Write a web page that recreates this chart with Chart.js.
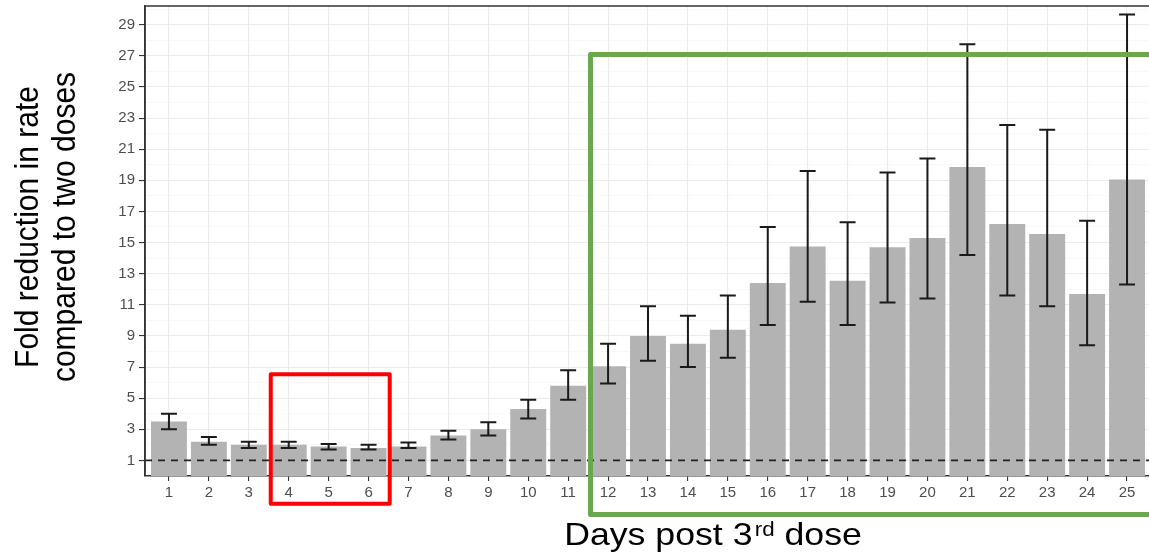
<!DOCTYPE html>
<html>
<head>
<meta charset="utf-8">
<script src="https://cdn.jsdelivr.net/npm/chart.js@4/dist/chart.umd.min.js"></script>
<style>
  html, body { margin: 0; padding: 0; background: #fff; overflow: hidden; }
  #wrap { position: relative; width: 1149px; height: 553px; }
</style>
</head>
<body>
<div id="wrap"><canvas id="c" width="1149" height="553"></canvas></div>
<script>
// Days after the third dose
const days = [1, 2, 3, 4, 5, 6, 7, 8, 9, 10, 11, 12, 13, 14, 15, 16, 17, 18, 19, 20, 21, 22, 23, 24, 25];
// Fold reduction in infection rate compared with two doses (point estimate)
const foldReduction = [3.5, 2.2, 2.0, 2.0, 1.9, 1.8, 1.9, 2.6, 3.0, 4.3, 5.8, 7.05, 9.0, 8.5, 9.4, 12.4, 14.75, 12.55, 14.7, 15.3, 19.85, 16.2, 15.55, 11.7, 19.05];
// Confidence interval bounds
const ciLower = [3.0, 2.0, 1.8, 1.8, 1.7, 1.7, 1.8, 2.35, 2.6, 3.7, 4.9, 5.95, 7.4, 7.0, 7.6, 9.7, 11.2, 9.7, 11.15, 11.4, 14.2, 11.6, 10.9, 8.4, 12.3];
const ciUpper = [4.0, 2.5, 2.2, 2.2, 2.05, 2.0, 2.15, 2.9, 3.45, 4.9, 6.8, 8.5, 10.9, 10.3, 11.6, 16.0, 19.6, 16.3, 19.5, 20.4, 27.75, 22.55, 22.25, 16.4, 29.65];
// Y axis breaks: labelled (odd) and minor (even)
const yMajorTicks = [1, 3, 5, 7, 9, 11, 13, 15, 17, 19, 21, 23, 25, 27, 29];
const yMinorTicks = [2, 4, 6, 8, 10, 12, 14, 16, 18, 20, 22, 24, 26, 28, 30];
// Reference level: no reduction
const referenceLevel = 1;
// Highlighted periods, in (day, fold) coordinates
const earlyWindow = { x0: 3.55, x1: 6.53, y0: -1.78, y1: 6.53 };
const lateWindow = { x0: 11.56, x1: 26.5, y0: -2.47, y1: 27.08 };

const FONT = "'Liberation Sans', Arial, Helvetica, sans-serif";
const STRETCH = 1.115; // horizontal widening of the titles

const overlay = {
  id: 'overlay',
  afterDatasetsDraw(chart) {
    const { ctx, scales: { x, y }, chartArea: a } = chart;
    ctx.save();
    // dashed reference line
    ctx.strokeStyle = '#222';
    ctx.lineWidth = 1.8;
    ctx.setLineDash([7, 6]);
    const yr = y.getPixelForValue(referenceLevel);
    ctx.beginPath();
    ctx.moveTo(a.left, yr);
    ctx.lineTo(a.right, yr);
    ctx.stroke();
    ctx.setLineDash([]);
    // error bars
    ctx.strokeStyle = '#1a1a1a';
    ctx.lineWidth = 2;
    days.forEach((d, i) => {
      const cx = x.getPixelForValue(d);
      const half = (x.getPixelForValue(d + 0.2) - x.getPixelForValue(d - 0.2)) / 2;
      const yl = y.getPixelForValue(ciLower[i]);
      const yu = y.getPixelForValue(ciUpper[i]);
      ctx.beginPath();
      ctx.moveTo(cx, yl); ctx.lineTo(cx, yu);
      ctx.moveTo(cx - half, yu); ctx.lineTo(cx + half, yu);
      ctx.moveTo(cx - half, yl); ctx.lineTo(cx + half, yl);
      ctx.stroke();
    });
    ctx.restore();
  },
  afterDraw(chart) {
    const { ctx, scales: { x, y }, chartArea: a } = chart;
    ctx.save();
    // panel border
    ctx.strokeStyle = '#333';
    ctx.lineWidth = 1.5;
    ctx.beginPath();
    ctx.moveTo(a.right + 5, a.top);
    ctx.lineTo(a.left, a.top);
    ctx.lineTo(a.left, a.bottom);
    ctx.stroke();

    // highlight boxes
    const box = (b, color, w) => {
      const l = x.getPixelForValue(b.x0), r = x.getPixelForValue(b.x1);
      const t = y.getPixelForValue(b.y1), bt = y.getPixelForValue(b.y0);
      ctx.strokeStyle = color;
      ctx.lineWidth = w;
      ctx.lineJoin = 'round';
      ctx.strokeRect(l, t, r - l, bt - t);
    };
    box(earlyWindow, '#ff0000', 4);
    box(lateWindow, '#6aa84f', 5);

    // y axis title (two lines)
    ctx.fillStyle = '#000';
    ctx.font = `30px ${FONT}`;
    ctx.textAlign = 'center';
    ctx.textBaseline = 'alphabetic';
    ctx.save();
    ctx.translate(0, 227);
    ctx.scale(STRETCH, 1);
    ctx.rotate(-Math.PI / 2);
    ctx.fillText('Fold reduction in rate', 0, 34);
    ctx.fillText('compared to two doses', 0, 67);
    ctx.restore();

    // x axis title with superscript
    const big = `32px ${FONT}`, small = `20px ${FONT}`;
    const p1 = 'Days post 3', sup = 'rd', p2 = ' dose';
    const gap = 2;
    ctx.font = big; const w1 = ctx.measureText(p1).width, w3 = ctx.measureText(p2).width;
    ctx.font = small; const w2 = ctx.measureText(sup).width;
    const total = w1 + gap + w2 + w3;
    ctx.save();
    ctx.translate(713, 545);
    ctx.scale(STRETCH, 1);
    let sx = -total / 2;
    ctx.textAlign = 'left';
    ctx.font = big; ctx.fillText(p1, sx, 0); sx += w1 + gap;
    ctx.font = small; ctx.fillText(sup, sx, -9); sx += w2;
    ctx.font = big; ctx.fillText(p2, sx, 0);
    ctx.restore();
    ctx.restore();
  }
};

new Chart(document.getElementById('c'), {
  type: 'bar',
  data: {
    datasets: [{
      data: days.map((d, i) => ({ x: d, y: foldReduction[i] })),
      backgroundColor: '#b3b3b3',
      borderWidth: 0,
      categoryPercentage: 1,
      barPercentage: 0.9
    }]
  },
  options: {
    responsive: false,
    animation: false,
    devicePixelRatio: 1,
    layout: { padding: { top: 6, left: 0, right: 0, bottom: 0 } },
    plugins: { legend: { display: false }, tooltip: { enabled: false } },
    scales: {
      x: {
        type: 'linear',
        offset: false,
        min: 0.4,
        max: 25.55,
        afterBuildTicks: s => { s.ticks = days.map(v => ({ value: v })); },
        afterFit: s => { s.height = 77; s.paddingLeft = 0; s.paddingRight = 0; },
        ticks: {
          autoSkip: false, maxRotation: 0, color: '#4d4d4d', padding: 3,
          font: { family: FONT, size: 15 },
          callback: v => String(v)
        },
        grid: { offset: false, color: '#ebebeb', lineWidth: 1.1, tickColor: '#333', tickLength: 5 },
        border: { color: '#333', width: 1.5 }
      },
      y: {
        type: 'linear',
        min: 0,
        max: 30.2,
        afterBuildTicks: s => {
          s.ticks = yMajorTicks.concat(yMinorTicks).sort((p, q) => p - q).map(v => ({ value: v }));
        },
        afterFit: s => { s.width = 145; s.paddingTop = 0; s.paddingBottom = 0; },
        ticks: {
          autoSkip: false, color: '#4d4d4d', padding: 4,
          font: { family: FONT, size: 15 },
          callback: v => (yMajorTicks.includes(v) ? String(v) : '')
        },
        grid: {
          color: c => (c.tick && yMajorTicks.includes(c.tick.value) ? '#ebebeb' : '#f4f4f4'),
          lineWidth: c => (c.tick && yMajorTicks.includes(c.tick.value) ? 1.1 : 0.6),
          tickColor: c => (c.tick && yMajorTicks.includes(c.tick.value) ? '#333' : 'rgba(0,0,0,0)'),
          tickLength: 6
        },
        border: { color: '#333', width: 1.5 }
      }
    }
  },
  plugins: [overlay]
});
</script>
</body>
</html>
